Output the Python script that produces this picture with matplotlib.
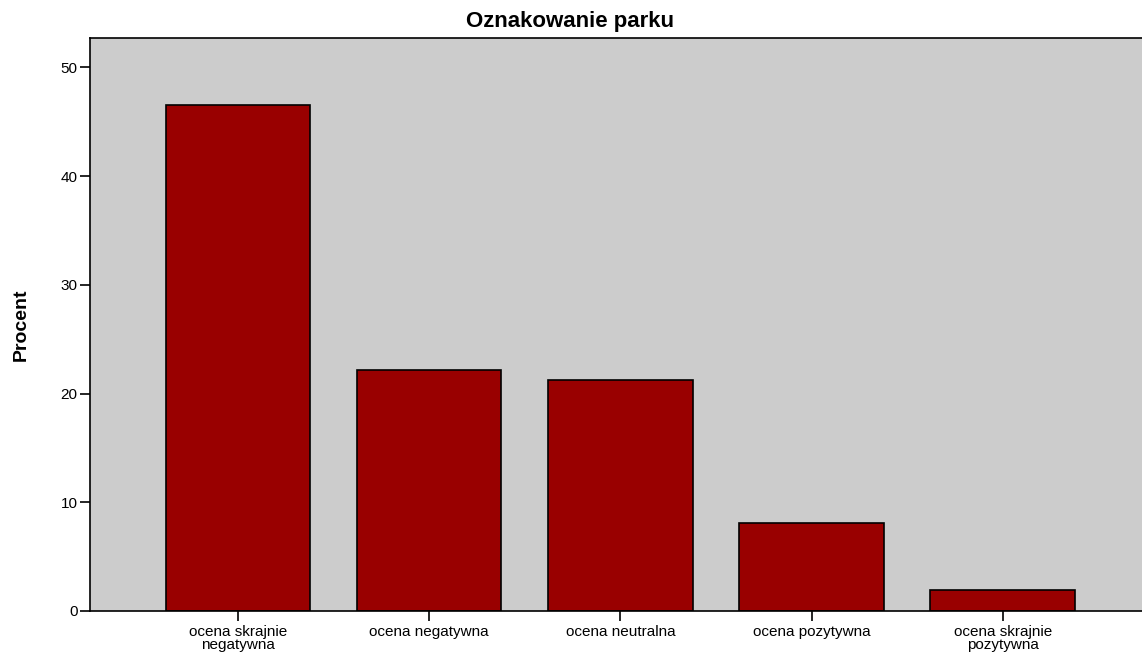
import numpy as np
import matplotlib.pyplot as plt

plt.rcParams['font.family'] = ['Liberation Sans', 'DejaVu Sans']

# Oznakowanie parku - rozklad ocen (procent)
categories = ["ocena skrajnie\nnegatywna", "ocena negatywna", "ocena neutralna",
              "ocena pozytywna", "ocena skrajnie\npozytywna"]
percent = [46.5, 22.2, 21.2, 8.1, 1.9]
yticks = [0, 10, 20, 30, 40, 50]

fig = plt.figure(figsize=(11.42, 6.55), dpi=100)
ax = fig.add_axes([90/1142, 44/655, 1.0, 573/655])

x = np.arange(len(categories))
ax.bar(x, percent, width=0.755, color="#990000", edgecolor="black", linewidth=1.2)

ax.set_facecolor("#cccccc")
ax.set_xlim(-0.775, 5.2)
ax.set_ylim(0, 52.7)
ax.set_yticks(yticks)
ax.set_xticks(x)
ax.set_xticklabels(categories, fontsize=11, linespacing=0.95)
ax.tick_params(axis="y", labelsize=11, length=7, width=1.2, pad=2)
ax.tick_params(axis="x", length=7, width=1.2, pad=3)

for s in ax.spines.values():
    s.set_linewidth(1.2)

ax.set_ylabel("Procent", fontsize=14, fontweight="bold", labelpad=22)
ax.set_title("Oznakowanie parku", fontsize=16, fontweight="bold", pad=8,
             x=(570 - 90) / 1142)

fig.savefig("out.png", dpi=100)
